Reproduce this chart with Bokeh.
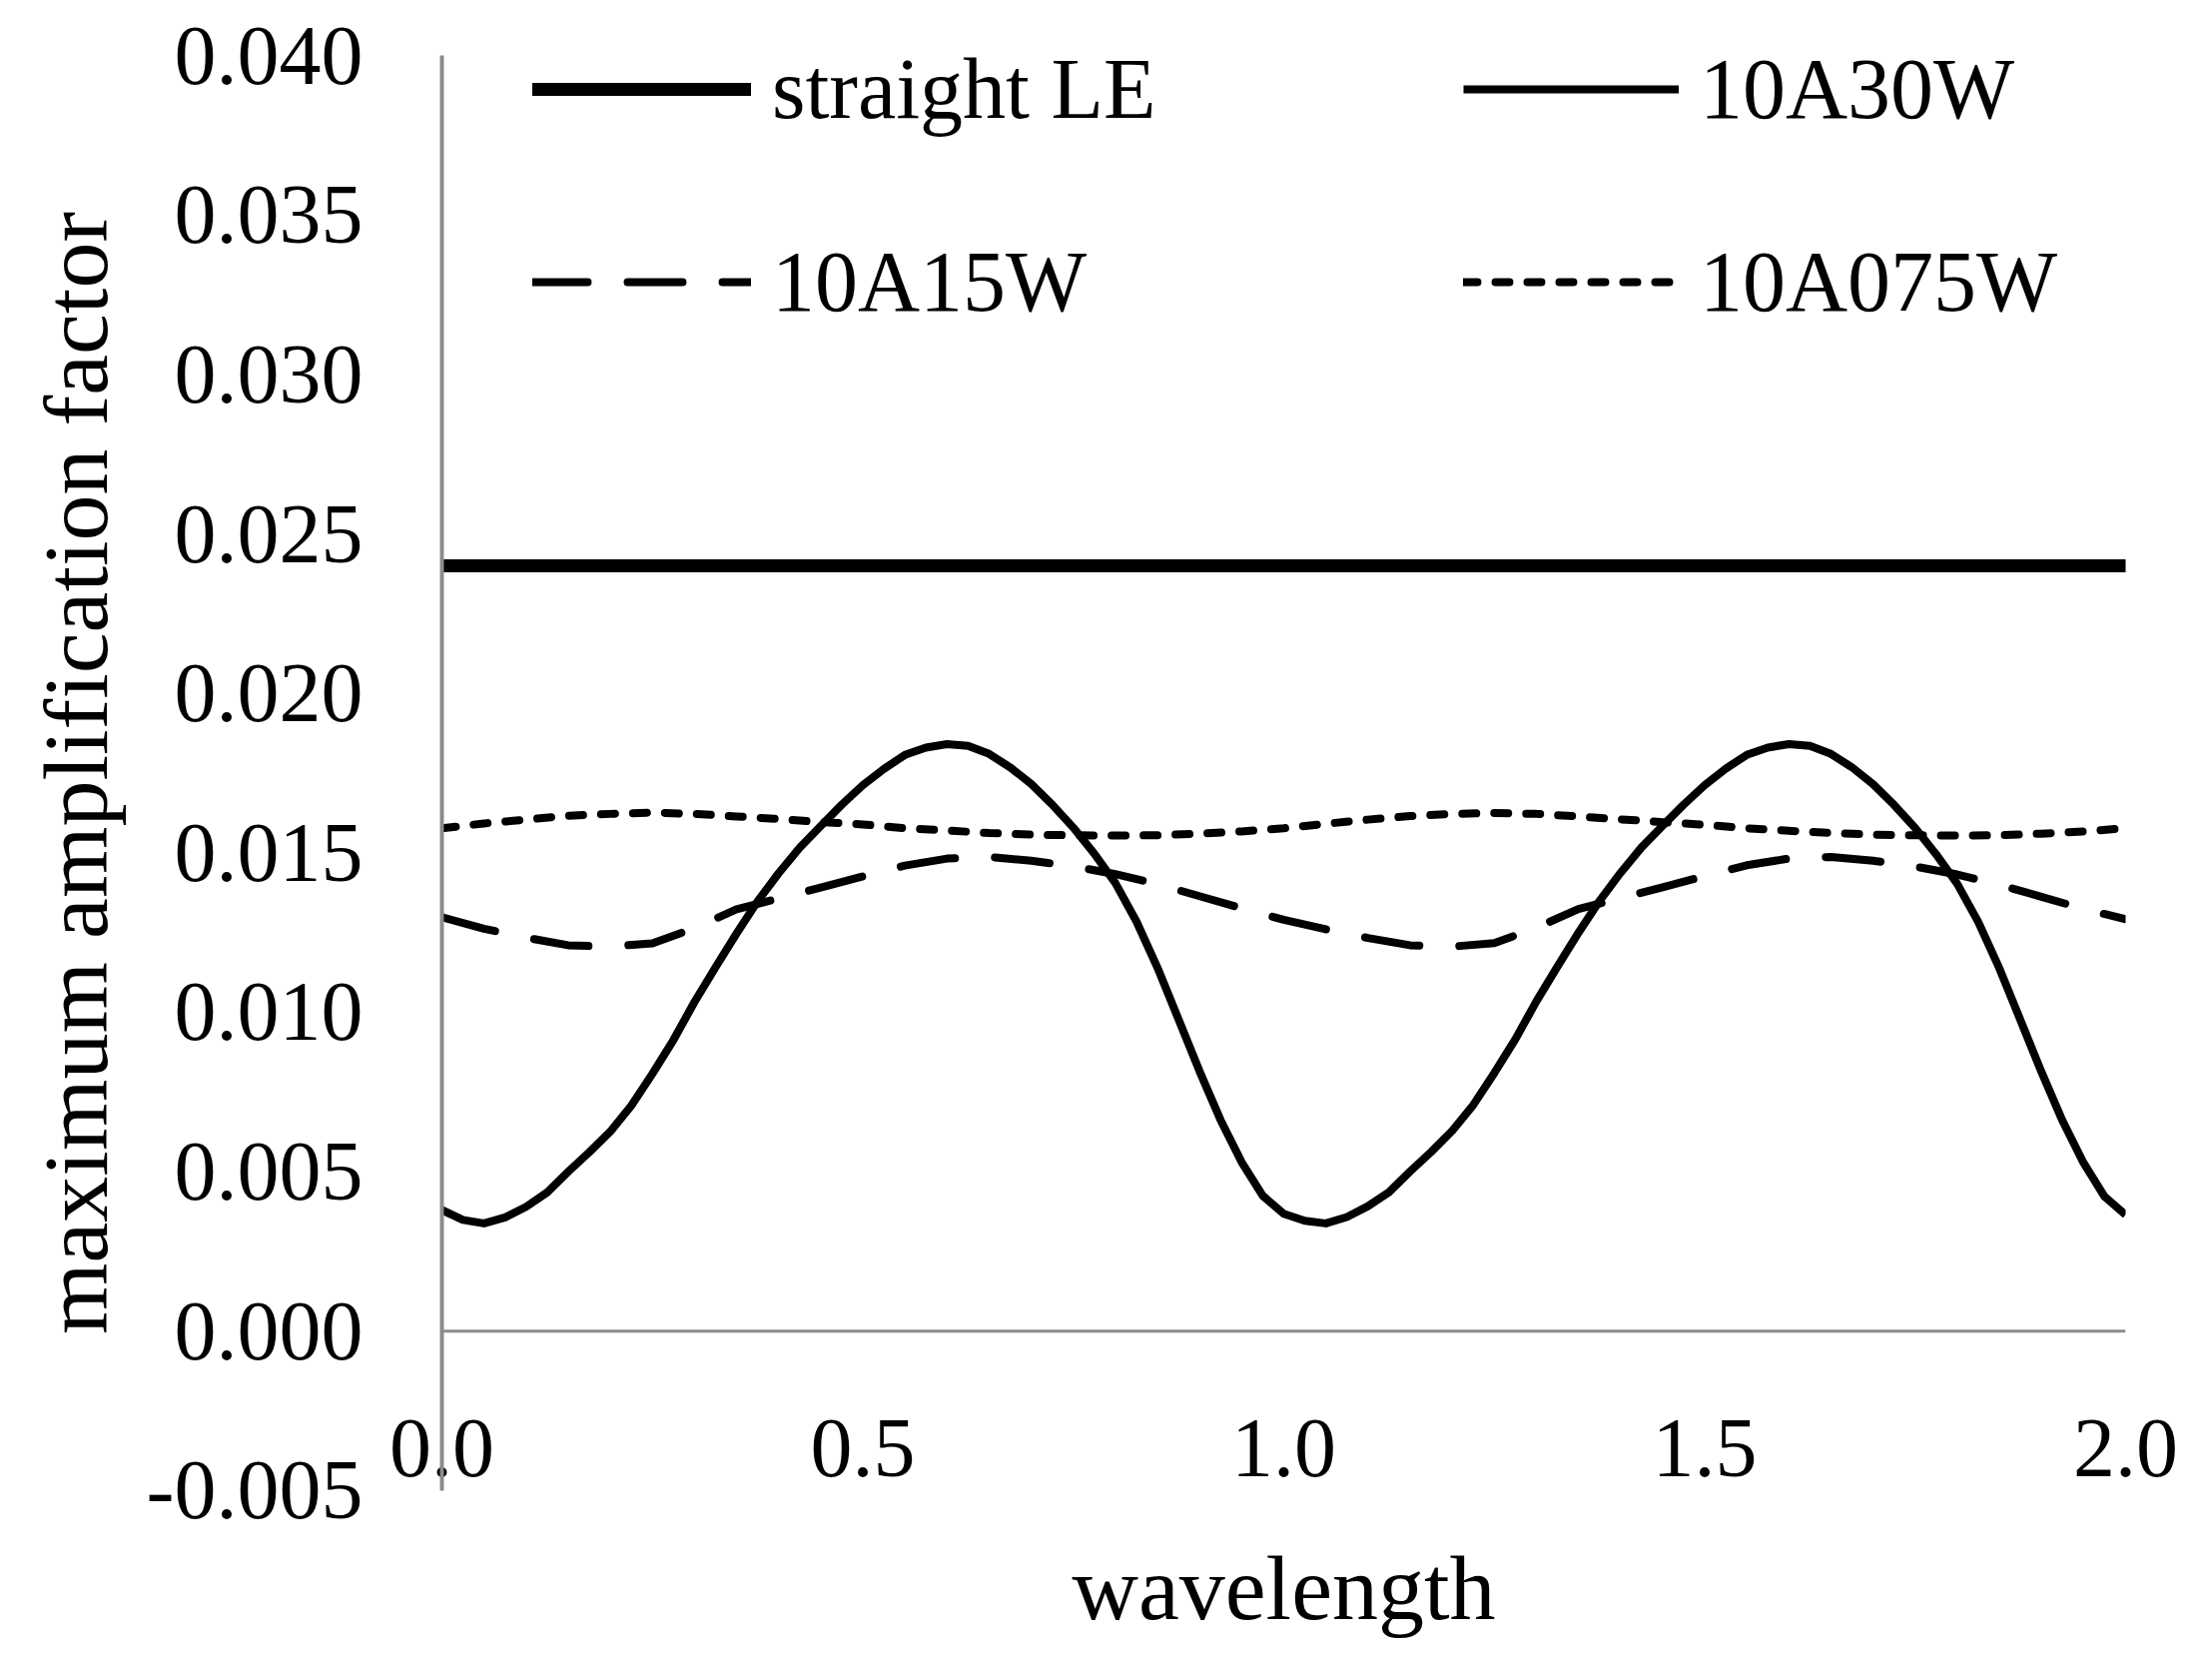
from bokeh.plotting import figure
from bokeh.models import Range1d, FixedTicker, NumeralTickFormatter, Span, Legend, LegendItem
from bokeh.embed import file_html
from bokeh.resources import INLINE

# data
# 10A30W is read at a finer step because it bends sharply
wavelength_fine = [0.000, 0.025, 0.050, 0.075, 0.100, 0.125, 0.150, 0.175, 0.200, 0.225,
                   0.250, 0.275, 0.300, 0.325, 0.350, 0.375, 0.400, 0.425, 0.450, 0.475,
                   0.500, 0.525, 0.550, 0.575, 0.600, 0.625, 0.650, 0.675, 0.700, 0.725,
                   0.750, 0.775, 0.800, 0.825, 0.850, 0.875, 0.900, 0.925, 0.950, 0.975,
                   1.000, 1.025, 1.050, 1.075, 1.100, 1.125, 1.150, 1.175, 1.200, 1.225,
                   1.250, 1.275, 1.300, 1.325, 1.350, 1.375, 1.400, 1.425, 1.450, 1.475,
                   1.500, 1.525, 1.550, 1.575, 1.600, 1.625, 1.650, 1.675, 1.700, 1.725,
                   1.750, 1.775, 1.800, 1.825, 1.850, 1.875, 1.900, 1.925, 1.950, 1.975,
                   2.000]

a30w = [0.00380, 0.00349, 0.00338, 0.00357, 0.00390, 0.00435, 0.00500, 0.00561, 0.00626, 0.00707,
        0.00807, 0.00913, 0.01032, 0.01141, 0.01247, 0.01348, 0.01436, 0.01516, 0.01584, 0.01651,
        0.01712, 0.01763, 0.01807, 0.01830, 0.01841, 0.01835, 0.01810, 0.01768, 0.01716, 0.01651,
        0.01579, 0.01497, 0.01405, 0.01285, 0.01140, 0.00978, 0.00815, 0.00662, 0.00530, 0.00425,
        0.00368, 0.00346, 0.00338, 0.00358, 0.00392, 0.00436, 0.00501, 0.00562, 0.00628, 0.00709,
        0.00809, 0.00915, 0.01034, 0.01143, 0.01249, 0.01349, 0.01437, 0.01517, 0.01585, 0.01651,
        0.01712, 0.01764, 0.01807, 0.01830, 0.01841, 0.01835, 0.01810, 0.01768, 0.01715, 0.01650,
        0.01578, 0.01495, 0.01403, 0.01283, 0.01138, 0.00976, 0.00813, 0.00660, 0.00528, 0.00422,
        0.00365]

wavelength = [0.00, 0.05, 0.10, 0.15, 0.20, 0.25, 0.30, 0.35, 0.40, 0.45,
              0.50, 0.55, 0.60, 0.65, 0.70, 0.75, 0.80, 0.85, 0.90, 0.95,
              1.00, 1.05, 1.10, 1.15, 1.20, 1.25, 1.30, 1.35, 1.40, 1.45,
              1.50, 1.55, 1.60, 1.65, 1.70, 1.75, 1.80, 1.85, 1.90, 1.95, 2.00]

a15w = [0.01298, 0.01262, 0.01234, 0.01210, 0.01206, 0.01216, 0.01264, 0.01323, 0.01357, 0.01391,
        0.01426, 0.01460, 0.01482, 0.01487, 0.01475, 0.01458, 0.01433, 0.01402, 0.01364, 0.01326,
        0.01290, 0.01260, 0.01233, 0.01210, 0.01206, 0.01217, 0.01265, 0.01324, 0.01358, 0.01392,
        0.01427, 0.01461, 0.01482, 0.01487, 0.01475, 0.01457, 0.01432, 0.01400, 0.01362, 0.01324,
        0.01292]

a075w = [0.01577, 0.01592, 0.01604, 0.01616, 0.01622, 0.01626, 0.01622, 0.01614, 0.01606, 0.01596,
         0.01589, 0.01577, 0.01570, 0.01562, 0.01557, 0.01555, 0.01554, 0.01555, 0.01560, 0.01567,
         0.01577, 0.01591, 0.01604, 0.01615, 0.01622, 0.01625, 0.01622, 0.01614, 0.01605, 0.01596,
         0.01588, 0.01577, 0.01569, 0.01562, 0.01557, 0.01555, 0.01554, 0.01555, 0.01560, 0.01567,
         0.01577]

straight_x = [0.0, 2.0]
straight_le = [0.0240, 0.0240]

y_ticks = [-0.005, 0.000, 0.005, 0.010, 0.015, 0.020, 0.025, 0.030, 0.035, 0.040]
x_ticks = [0.0, 0.5, 1.0, 1.5, 2.0]

FONT = "Liberation Serif"
GRAY = "#8c8c8c"

# the frame reaches a little past -0.005 and 0.040 (same amount both ways) so the
# legend sits fully inside it; the y axis line itself runs only from -0.005 to 0.040
p = figure(frame_width=1686, frame_height=1527, output_backend="svg", toolbar_location=None,
           x_range=Range1d(0, 2), y_range=Range1d(-0.00641, 0.04141),
           min_border_left=442, min_border_right=71, min_border_top=10, min_border_bottom=108)
p.outline_line_color = None
p.xgrid.grid_line_color = None
p.ygrid.grid_line_color = None

r_le = p.line(straight_x, straight_le, line_color="black", line_width=13, line_cap="round")
r30 = p.line(wavelength_fine, a30w, line_color="black", line_width=8, line_join="round")
r15 = p.line(wavelength, a15w, line_color="black", line_width=8, line_dash="55 40",
             line_cap="round", line_join="round")
r075 = p.line(wavelength, a075w, line_color="black", line_width=8, line_dash="14 18",
              line_cap="round", line_join="round")

# horizontal axis line sits at y = 0
p.add_layout(Span(location=0, dimension="width", line_color=GRAY, line_width=3))

# y axis
p.yaxis.bounds = (-0.005, 0.040)
p.yaxis.ticker = FixedTicker(ticks=y_ticks)
p.yaxis.formatter = NumeralTickFormatter(format="0.000")
p.yaxis.axis_line_color = GRAY
p.yaxis.axis_line_width = 4
p.yaxis.major_tick_line_color = None
p.yaxis.minor_tick_line_color = None
p.yaxis.major_tick_out = 0
p.yaxis.major_tick_in = 0
p.yaxis.major_label_standoff = 79
p.yaxis.major_label_text_font = FONT
p.yaxis.major_label_text_font_size = "84px"
p.yaxis.major_label_text_color = "black"
p.yaxis.axis_label = "maximum amplification factor"
p.yaxis.axis_label_text_font = FONT
p.yaxis.axis_label_text_font_size = "92px"
p.yaxis.axis_label_text_font_style = "normal"
p.yaxis.axis_label_text_color = "black"
p.yaxis.axis_label_standoff = 17

# x axis: labels drawn low, level with the -0.005 tick
p.xaxis.ticker = FixedTicker(ticks=x_ticks)
p.xaxis.formatter = NumeralTickFormatter(format="0.0")
p.xaxis.axis_line_color = None
p.xaxis.major_tick_line_color = None
p.xaxis.minor_tick_line_color = None
p.xaxis.major_tick_out = 0
p.xaxis.major_tick_in = 0
p.xaxis.major_label_standoff = -116
p.xaxis.major_label_text_font = FONT
p.xaxis.major_label_text_font_size = "84px"
p.xaxis.major_label_text_color = "black"
p.xaxis.axis_label = "wavelength"
p.xaxis.axis_label_text_font = FONT
p.xaxis.axis_label_text_font_size = "92px"
p.xaxis.axis_label_text_font_style = "normal"
p.xaxis.axis_label_text_color = "black"
p.xaxis.axis_label_standoff = 58


def make_legend(items, x, glyph_w):
    return Legend(items=items, location=(x, 1200), orientation="vertical",
                  glyph_width=glyph_w, glyph_height=110, label_height=110,
                  label_standoff=21, spacing=83, padding=0, margin=0,
                  border_line_color=None, background_fill_alpha=0,
                  label_text_font=FONT, label_text_font_size="86px",
                  label_text_color="black")


leg1 = make_legend([LegendItem(label="straight LE", renderers=[r_le]),
                    LegendItem(label="10A15W", renderers=[r15])], 91, 219)
leg2 = make_legend([LegendItem(label="10A30W", renderers=[r30]),
                    LegendItem(label="10A075W", renderers=[r075])], 1023, 216)
p.add_layout(leg1)
p.add_layout(leg2)

open("out.html", "w").write(file_html(p, INLINE))
